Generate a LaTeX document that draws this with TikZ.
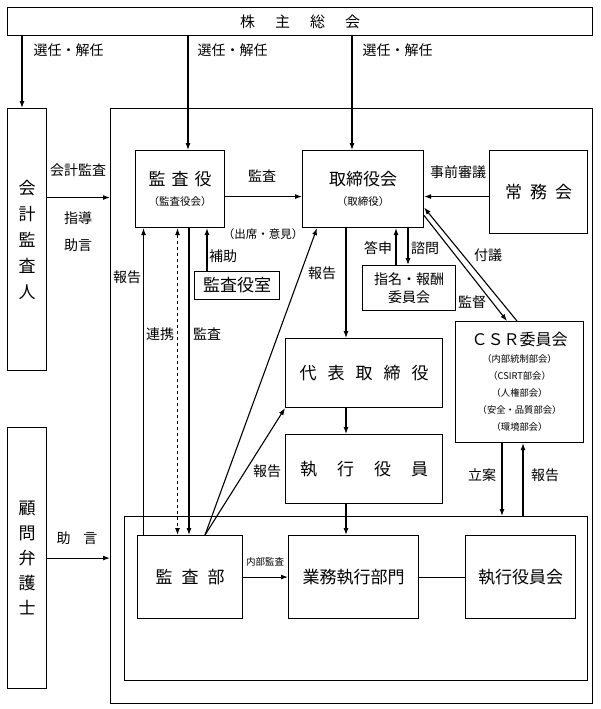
\documentclass[tikz,border=0pt]{standalone}
\usepackage{fontspec}
\setmainfont{Noto Sans CJK JP}
\usetikzlibrary{arrows.meta}
\newcommand{\subtxt}{\fontsize{10.5}{11}\selectfont}

\begin{document}
\begin{tikzpicture}[x=1pt, y=-1pt, line width=1.1pt, >={Latex[length=7pt,width=5pt]},
  box/.style={draw, anchor=north west, inner sep=0pt, align=center, font=\fontsize{17}{21}\selectfont},
  lbl/.style={inner sep=0pt, font=\fontsize{14}{16}\selectfont}]
\useasboundingbox (0,0) rectangle (600,709);

\node[box, minimum width=585pt, minimum height=28pt, font=\fontsize{15}{17}\selectfont] (soukai) at (7,7) {株\hspace{20pt}主\hspace{20pt}総\hspace{20pt}会};
\node[box, minimum width=482pt, minimum height=595pt] (company) at (110,108) {};
\node[box, minimum width=463pt, minimum height=164pt] (inner) at (124,516) {};
\node[box, minimum width=39pt, minimum height=262pt, font=\fontsize{17}{26}\selectfont] (kaikei) at (7,108) {会\\計\\監\\査\\人};
\node[box, minimum width=39pt, minimum height=261pt, font=\fontsize{17}{25}\selectfont] (komon) at (7,427) {顧\\問\\弁\\護\\士};

\node[box, minimum width=89pt, minimum height=77pt] (kansayaku) at (135,150) {監\hspace{6pt}査\hspace{6pt}役\\[-1pt]{\subtxt（監査役会）}};
\node[box, minimum width=121pt, minimum height=77pt] (torishimari) at (302,150) {取締役会\\[-1pt]{\subtxt（取締役）}};
\node[box, minimum width=98pt, minimum height=83pt] (joumu) at (489,150) {常\hspace{8pt}務\hspace{8pt}会};
\node[box, minimum width=93pt, minimum height=45pt, font=\fontsize{14}{18}\selectfont] (shimei) at (362,265) {指名・報酬\\委員会};
\node[box, minimum width=85pt, minimum height=28pt] (kansashitsu) at (194,271) {監査役室};
\node[box, minimum width=128pt, minimum height=121pt, font=\fontsize{9.3}{17}\selectfont] (csr) at (455,321) {{\fontsize{16}{19}\selectfont ＣＳＲ委員会}\\（内部統制部会）\\（CSIRT部会）\\（人権部会）\\（安全・品質部会）\\（環境部会）};
\node[box, minimum width=157pt, minimum height=69pt] (daihyo) at (285,338) {代\hspace{11pt}表\hspace{11pt}取\hspace{11pt}締\hspace{11pt}役};
\node[box, minimum width=157pt, minimum height=69pt] (shikkou) at (285,434) {執\hspace{20pt}行\hspace{20pt}役\hspace{20pt}員};
\node[box, minimum width=105pt, minimum height=83pt] (kansabu) at (137,535) {監\hspace{9pt}査\hspace{9pt}部};
\node[box, minimum width=130pt, minimum height=83pt] (gyomu) at (288,535) {業務執行部門};
\node[box, minimum width=110pt, minimum height=83pt] (shikkoukai) at (465,535) {執行役員会};

\draw[->] ([xshift=15pt]soukai.south west) -- ([xshift=15pt]kaikei.north west);
\draw[->] ([xshift=181pt]soukai.south west) -- ([xshift=53pt]kansayaku.north west);
\draw[->] ([xshift=345pt]soukai.south west) -- ([xshift=50pt]torishimari.north west);
\draw[->] ([yshift=42pt]kaikei.east) coordinate (k1) -- (k1 -| company.west);
\draw[->] (komon.east) -- (komon.east -| company.west);
\draw[->] ([yshift=-7.5pt]kansayaku.east) coordinate (k2) -- (k2 -| torishimari.west);
\draw[->] ([yshift=-4.5pt]joumu.west) coordinate (k3) -- (k3 -| torishimari.east);
\draw[->] ([xshift=44pt]torishimari.south west) coordinate (k4) -- (k4 |- daihyo.north);
\draw[->] ([xshift=61pt]daihyo.south west) coordinate (k5) -- (k5 |- shikkou.north);
\draw[->] ([xshift=61pt]shikkou.south west) coordinate (k6) -- (k6 |- gyomu.north);
\draw[->] ([xshift=34pt]shimei.north west) coordinate (k7) -- (k7 |- torishimari.south);
\draw[->] ([xshift=46pt]shimei.north west) coordinate (k8) ++(0,-38) -- (k8);
\draw[->] ([xshift=62pt]csr.north west) -- ([yshift=-18.5pt]torishimari.east);
\draw[->] ([yshift=-26.5pt]torishimari.east) -- ([xshift=52pt]csr.north west);
\draw[->] ([xshift=47pt]csr.south west) coordinate (k9) -- (k9 |- inner.north);
\draw[->] ([xshift=68pt]csr.south west) ++(0,74) coordinate (k10) -- (k10 |- csr.south);
\draw[->] ([xshift=6.5pt]kansabu.north west) coordinate (k11) -- (k11 |- kansayaku.south);
\draw[<->, dashed] ([xshift=42.5pt]kansayaku.south west) coordinate (k12) -- (k12 |- kansabu.north);
\draw[->] ([xshift=54pt]kansayaku.south west) coordinate (k13) -- (k13 |- kansabu.north);
\draw[->] ([xshift=68pt]kansabu.north west) -- ([xshift=15pt]torishimari.south west);
\draw[->] ([xshift=68pt]kansabu.north west) -- (daihyo.south west);
\draw[->] ([xshift=13pt]kansashitsu.north west) coordinate (k14) -- (k14 |- kansayaku.south);
\draw[->] (kansabu.east) -- (kansabu.east -| gyomu.west);
\draw (gyomu.east) -- (shikkoukai.west);

\node[lbl, anchor=west] (sen1) at (33,50) {選任・解任};
\node[lbl, anchor=west] (sen2) at (197,50) {選任・解任};
\node[lbl, anchor=west] (sen3) at (362,50) {選任・解任};
\node[lbl] (kaikeikansa) at (78,170) {会計監査};
\node[lbl] (shidou) at (78,218) {指導};
\node[lbl] (jogen) at (78,245) {助言};
\node[lbl] (jogen2) at (77,538) {助\hspace{13pt}言};
\node[lbl] (kansa1) at (262,176) {監査};
\node[lbl, font=\fontsize{11.5}{13}\selectfont] (shusseki) at (263,234) {（出席・意見）};
\node[lbl] (jizen) at (458,172) {事前審議};
\node[lbl] (hojo) at (223,256) {補助};
\node[lbl] (houkoku1) at (127,277) {報告};
\node[lbl] (houkoku2) at (322,273) {報告};
\node[lbl] (toushin) at (378,248) {答申};
\node[lbl] (shimon) at (425,248) {諮問};
\node[lbl] (fugi) at (488,255) {付議};
\node[lbl] (kantoku) at (472,302) {監督};
\node[lbl] (renkei) at (160,334) {連携};
\node[lbl] (kansa2) at (207,334) {監査};
\node[lbl] (houkoku3) at (267,471) {報告};
\node[lbl] (rian) at (482,475) {立案};
\node[lbl] (houkoku4) at (545,475) {報告};
\node[lbl, font=\fontsize{9.5}{11}\selectfont] (naibu) at (265,562) {内部監査};
\end{tikzpicture}
\end{document}
